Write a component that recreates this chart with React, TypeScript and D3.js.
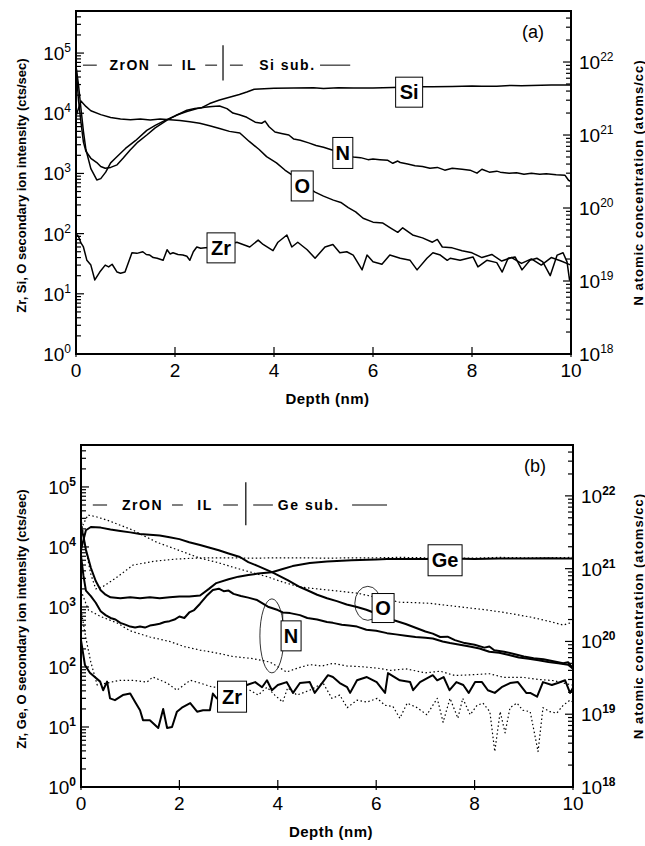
import React from 'react';
import * as d3 from 'd3';

type Pt = [number, number];

// ---------- panel (a): ZrON on Si ----------
const siA: Pt[] = [
  [0, 60000], [0.05, 30000], [0.1, 12000], [0.15, 5000], [0.2, 2500], [0.3, 1200], [0.42, 780], [0.5, 820],
  [0.6, 1050], [0.7, 1500], [0.8, 1800], [1.0, 2600], [1.2, 3500], [1.43, 5200], [1.6, 6300], [1.8, 7600],
  [2.0, 9000], [2.24, 11200], [2.4, 12000], [2.53, 12300], [2.7, 14500], [2.9, 16600], [3.1, 18500],
  [3.3, 20500], [3.45, 22500], [3.6, 25000], [3.8, 25500], [4.0, 26000], [4.4, 26300], [4.8, 26500],
  [5.0, 25800], [5.3, 26500], [5.6, 26300], [6.0, 26300], [6.4, 26800], [6.8, 27500], [7.2, 27500],
  [7.6, 27800], [8.0, 28500], [8.2, 28000], [8.5, 28200], [8.8, 29000], [9.0, 28600], [9.2, 28800],
  [9.6, 29500], [10, 29500],
];
const oA: Pt[] = [
  [0, 9000], [0.1, 16000], [0.2, 13000], [0.3, 11000], [0.5, 9500], [0.7, 8500], [0.9, 8000], [1.1, 7800],
  [1.3, 8000], [1.5, 7700], [1.7, 8000], [1.9, 7800], [2.1, 7600], [2.3, 7200], [2.5, 6800], [2.7, 6200],
  [2.9, 5600], [3.1, 5000], [3.31, 4700], [3.5, 3400], [3.7, 2500], [3.85, 1900], [4.05, 1500],
  [4.22, 1140], [4.4, 900], [4.6, 650], [4.83, 490], [5.0, 420], [5.2, 360], [5.35, 330], [5.5, 270],
  [5.65, 230], [5.8, 180], [6.0, 155], [6.2, 150], [6.35, 125], [6.5, 105], [6.6, 125], [6.8, 95],
  [7.0, 85], [7.2, 72], [7.3, 80], [7.4, 60], [7.6, 58], [7.8, 52], [8.0, 48], [8.2, 40], [8.4, 45],
  [8.6, 35], [8.8, 40], [9.0, 32], [9.2, 38], [9.4, 30], [9.6, 40], [9.8, 35], [10, 30],
];
const zrA: Pt[] = [
  [0, 100], [0.05, 90], [0.1, 70], [0.15, 60], [0.22, 36], [0.3, 30], [0.38, 17], [0.48, 23], [0.59, 30],
  [0.66, 28], [0.73, 31], [0.83, 23], [0.9, 22], [0.99, 23], [1.13, 48], [1.23, 47], [1.35, 50],
  [1.42, 45], [1.49, 44], [1.56, 40], [1.64, 39], [1.76, 36], [1.84, 54], [1.9, 46], [1.96, 48],
  [2.06, 45], [2.16, 44], [2.24, 42], [2.3, 36], [2.37, 50], [2.44, 60], [2.52, 57], [2.61, 58],
  [2.9, 60], [3.25, 72], [3.51, 60], [3.68, 78], [3.78, 66], [3.98, 52], [4.08, 72], [4.26, 95],
  [4.36, 60], [4.48, 72], [4.67, 54], [4.83, 39], [5.03, 60], [5.19, 66], [5.33, 48], [5.47, 50],
  [5.6, 44], [5.78, 25], [5.88, 44], [6.0, 34], [6.18, 31], [6.34, 44], [6.55, 39], [6.75, 36],
  [6.89, 25], [7.09, 39], [7.21, 48], [7.36, 44], [7.5, 36], [7.56, 39], [7.76, 36], [8.02, 41],
  [8.12, 28], [8.3, 36], [8.5, 33], [8.61, 23], [8.73, 39], [8.87, 41], [9.01, 25], [9.17, 36],
  [9.31, 39], [9.43, 34], [9.58, 20], [9.72, 44], [9.84, 48], [9.92, 34], [9.97, 17], [10, 20],
];
// N in atoms/cc (right axis)
const nA: Pt[] = [
  [0, 9e21], [0.05, 3e21], [0.1, 1.5e21], [0.15, 8e20], [0.2, 6e20], [0.3, 4.8e20], [0.42, 4.2e20],
  [0.5, 3.7e20], [0.59, 3.5e20], [0.7, 3.6e20], [0.83, 3.9e20], [0.95, 4.8e20], [1.09, 6.2e20],
  [1.25, 8e20], [1.43, 1.0e21], [1.6, 1.25e21], [1.84, 1.6e21], [2.05, 1.9e21], [2.24, 2.1e21],
  [2.45, 2.3e21], [2.6, 2.4e21], [2.75, 2.45e21], [2.9, 2.5e21], [3.05, 2.3e21], [3.17, 2.0e21],
  [3.3, 1.9e21], [3.45, 1.75e21], [3.62, 1.5e21], [3.75, 1.45e21], [3.82, 1.55e21], [3.9, 1.3e21],
  [4.02, 1.1e21], [4.15, 1.05e21], [4.3, 1.0e21], [4.4, 8.8e20], [4.53, 8.5e20], [4.7, 7.8e20],
  [4.85, 7.2e20], [5.0, 6.8e20], [5.19, 6.2e20], [5.4, 5.6e20], [5.6, 5.0e20], [5.75, 4.9e20],
  [5.9, 4.6e20], [6.0, 4.7e20], [6.14, 4.6e20], [6.3, 4.5e20], [6.4, 4.1e20], [6.5, 4.4e20],
  [6.55, 4.2e20], [6.7, 4.0e20], [6.85, 3.8e20], [7.0, 3.7e20], [7.15, 3.5e20], [7.3, 3.6e20],
  [7.45, 3.3e20], [7.6, 3.5e20], [7.8, 3.4e20], [7.96, 3.3e20], [8.1, 3.0e20], [8.2, 3.4e20],
  [8.35, 3.1e20], [8.5, 3.2e20], [8.57, 3.1e20], [8.75, 3.0e20], [8.9, 3.05e20], [9.05, 2.9e20],
  [9.2, 3.0e20], [9.37, 2.9e20], [9.5, 2.95e20], [9.7, 2.85e20], [9.88, 2.8e20], [9.95, 2.4e20],
  [10, 2.3e20],
];

// ---------- panel (b): ZrON on Ge (solid) and reference (dotted) ----------
const oB: Pt[] = [
  [0, 9000], [0.1, 19000], [0.2, 21500], [0.4, 21000], [0.6, 19500], [0.8, 18500], [1.0, 17500],
  [1.2, 16500], [1.4, 16000], [1.6, 15500], [1.8, 14500], [2.0, 13500], [2.2, 12000], [2.42, 10800],
  [2.6, 9800], [2.8, 8800], [3.0, 7800], [3.23, 6800], [3.4, 5600], [3.6, 4800], [3.88, 3800],
  [4.0, 3400], [4.2, 2800], [4.45, 2150], [4.6, 1900], [4.8, 1600], [5.0, 1400], [5.2, 1250],
  [5.4, 1100], [5.61, 1000], [5.8, 900], [6.0, 780], [6.2, 680], [6.36, 600], [6.6, 520], [6.8, 450],
  [7.0, 390], [7.15, 360], [7.3, 316], [7.45, 320], [7.6, 280], [7.8, 250], [8.0, 235], [8.2, 210],
  [8.3, 220], [8.4, 190], [8.6, 180], [8.8, 165], [9.0, 150], [9.2, 140], [9.4, 135], [9.6, 125],
  [9.8, 115], [9.9, 120], [10, 95],
];
const geB: Pt[] = [
  [0, 22000], [0.05, 15000], [0.1, 9000], [0.2, 4500], [0.3, 2700], [0.4, 1900], [0.5, 1600],
  [0.6, 1450], [0.8, 1400], [1.0, 1450], [1.2, 1400], [1.4, 1450], [1.6, 1400], [1.8, 1450],
  [2.0, 1500], [2.2, 1500], [2.42, 1550], [2.6, 2000], [2.75, 2500], [3.0, 2900], [3.2, 3200],
  [3.4, 3400], [3.6, 3600], [3.88, 3800], [4.1, 4300], [4.3, 4800], [4.65, 5400], [5.0, 5700],
  [5.5, 6000], [6.0, 6200], [6.22, 6300], [6.5, 6300], [7.0, 6300], [7.5, 6400], [8.0, 6300],
  [8.5, 6400], [9.0, 6400], [9.5, 6500], [9.8, 6400], [10, 6400],
];
const nB: Pt[] = [
  [0, 1.5e21], [0.05, 8e20], [0.1, 5e20], [0.2, 4.2e20], [0.3, 3.4e20], [0.4, 2.6e20], [0.5, 2.3e20],
  [0.6, 2.1e20], [0.7, 2.0e20], [0.8, 1.8e20], [0.9, 1.7e20], [1.0, 1.6e20], [1.1, 1.55e20],
  [1.2, 1.6e20], [1.3, 1.55e20], [1.4, 1.65e20], [1.5, 1.7e20], [1.6, 1.75e20], [1.7, 1.85e20],
  [1.8, 1.9e20], [1.9, 2.0e20], [2.0, 2.2e20], [2.1, 2.1e20], [2.2, 2.5e20], [2.3, 2.7e20],
  [2.42, 3.3e20], [2.55, 4.2e20], [2.68, 5.1e20], [2.8, 5.3e20], [2.9, 4.9e20], [3.0, 5.0e20],
  [3.1, 4.5e20], [3.25, 4.2e20], [3.4, 4.0e20], [3.58, 3.7e20], [3.8, 3.0e20], [4.0, 2.7e20],
  [4.1, 2.5e20], [4.25, 2.45e20], [4.45, 2.3e20], [4.6, 2.1e20], [4.8, 2.0e20], [5.0, 1.85e20],
  [5.12, 1.8e20], [5.3, 1.7e20], [5.45, 1.65e20], [5.61, 1.6e20], [5.8, 1.45e20], [6.0, 1.4e20],
  [6.22, 1.3e20], [6.4, 1.25e20], [6.6, 1.2e20], [6.8, 1.15e20], [7.0, 1.12e20], [7.15, 1.1e20],
  [7.35, 1.0e20], [7.5, 9.5e19], [7.7, 9e19], [7.9, 8.5e19], [8.1, 8e19], [8.3, 7.2e19],
  [8.5, 7e19], [8.7, 6.5e19], [8.9, 6e19], [9.1, 5.8e19], [9.3, 5.5e19], [9.5, 5.2e19],
  [9.7, 5.0e19], [9.9, 4.8e19], [10, 4.2e19],
];
const zrB: Pt[] = [
  [0, 280], [0.08, 108], [0.18, 80], [0.39, 57], [0.45, 41], [0.53, 57], [0.59, 30], [0.69, 28],
  [0.85, 34], [1.0, 36], [1.1, 26], [1.2, 19], [1.26, 13], [1.4, 13], [1.57, 9.6], [1.67, 20],
  [1.75, 9.6], [1.85, 10], [1.95, 18], [2.05, 21], [2.22, 25], [2.36, 18], [2.48, 19], [2.62, 19],
  [2.68, 36], [2.76, 30], [3.0, 40], [3.37, 50], [3.54, 56], [3.68, 46], [3.78, 60], [3.88, 41],
  [4.0, 50], [4.18, 56], [4.31, 37], [4.45, 54], [4.65, 56], [4.75, 37], [4.9, 54], [5.02, 73],
  [5.12, 68], [5.26, 54], [5.41, 46], [5.47, 37], [5.61, 60], [5.81, 68], [6.01, 56], [6.18, 37],
  [6.24, 79], [6.48, 60], [6.69, 56], [6.75, 41], [6.89, 56], [7.15, 73], [7.24, 60], [7.37, 68],
  [7.49, 41], [7.63, 56], [7.77, 50], [7.88, 37], [8.01, 56], [8.15, 56], [8.27, 41], [8.41, 37],
  [8.55, 46], [8.72, 54], [8.88, 56], [9.05, 37], [9.13, 37], [9.27, 32], [9.39, 56], [9.57, 50],
  [9.69, 54], [9.84, 60], [9.94, 37], [10, 45],
];
const oRefB: Pt[] = [
  [0, 20000], [0.14, 34000], [0.3, 32000], [0.53, 28000], [0.8, 23000], [1.06, 19000], [1.3, 15000],
  [1.54, 12000], [1.8, 10000], [2.07, 8300], [2.42, 6500], [2.78, 5500], [3.09, 4600], [3.4, 3900],
  [3.78, 3200], [4.1, 2600], [4.45, 2150], [4.8, 2000], [5.2, 1850], [5.61, 1700], [6.0, 1450],
  [6.48, 1200], [6.8, 1180], [7.09, 1150], [7.5, 1050], [7.91, 960], [8.2, 900], [8.52, 830],
  [8.8, 760], [9.13, 680], [9.5, 580], [9.8, 500], [10, 560],
];
const geRefB: Pt[] = [
  [0, 30000], [0.08, 10700], [0.2, 3500], [0.3, 2000], [0.45, 2200], [0.7, 3000], [1.06, 5000],
  [1.5, 5800], [1.95, 6300], [2.5, 6600], [3.0, 6600], [3.5, 6500], [4.0, 6600], [4.5, 6600],
  [5.0, 6500], [5.5, 6600], [6.0, 6600], [6.5, 6700], [7.0, 6600], [7.5, 6600], [8.0, 6500],
  [8.5, 6700], [9.0, 6600], [9.5, 6600], [10, 6700],
];
const nRefB: Pt[] = [
  [0, 5e20], [0.15, 2.7e20], [0.4, 2.2e20], [0.73, 1.8e20], [1.0, 1.4e20], [1.4, 1.15e20],
  [1.8, 1.0e20], [2.1, 8.5e19], [2.42, 7.6e19], [2.78, 6.9e19], [3.09, 6.2e19], [3.5, 5.8e19],
  [3.84, 5.2e19], [4.0, 4.5e19], [4.18, 3.8e19], [4.4, 4.3e19], [4.65, 4.8e19], [4.9, 4.6e19],
  [5.12, 5.0e19], [5.4, 4.6e19], [5.7, 4.5e19], [6.02, 4.3e19], [6.3, 4.0e19], [6.6, 4.2e19],
  [7.0, 3.7e19], [7.3, 3.9e19], [7.6, 3.4e19], [8.0, 3.5e19], [8.3, 3.6e19], [8.6, 3.2e19],
  [9.0, 3.2e19], [9.3, 3.0e19], [9.6, 2.9e19], [10, 2.5e19],
];
const zrRefB: Pt[] = [
  [0, 900], [0.1, 300], [0.2, 120], [0.33, 50], [0.53, 54], [0.79, 60], [1.06, 60], [1.34, 56],
  [1.46, 68], [1.75, 54], [1.95, 41], [2.22, 60], [2.42, 54], [2.68, 46], [3.1, 46], [3.43, 41],
  [3.6, 34], [3.78, 46], [3.94, 34], [4.1, 26], [4.2, 45], [4.39, 34], [4.65, 41], [4.92, 54],
  [5.1, 30], [5.26, 34], [5.41, 21], [5.61, 28], [5.81, 26], [6.02, 30], [6.18, 23], [6.34, 22],
  [6.48, 14], [6.63, 25], [6.83, 21], [7.03, 16], [7.24, 30], [7.36, 12], [7.5, 30], [7.66, 14],
  [7.76, 30], [7.91, 16], [8.05, 23], [8.17, 25], [8.31, 18], [8.41, 3.9], [8.52, 18], [8.62, 8],
  [8.72, 21], [8.86, 25], [8.98, 19], [9.13, 18], [9.29, 3.9], [9.39, 21], [9.53, 18], [9.67, 17],
  [9.8, 23], [9.94, 28], [10, 26],
];

// ---------- axes ----------
const depthDomain: Pt = [0, 10];
const depthTicks = [0, 2, 4, 6, 8, 10];
const countsDomain: Pt = [1, 5e5];
const nDomain: Pt = [1e18, 5e22];

const FONT = "'Liberation Sans', Arial, sans-serif";
const NARROW = "'Liberation Sans Narrow', 'Liberation Sans', Arial, sans-serif";

type Series = { data: Pt[]; axis: 'L' | 'R'; dotted?: boolean };
type Box = { text: string; d: number; v: number; w: number; h: number };
type Mark = { kind: 'line'; d0: number; d1: number } | { kind: 'text'; d: number; text: string } | { kind: 'bar'; d: number; v0: number; v1: number };

type PanelCfg = {
  left: number; right: number; top: number; bottom: number;
  tag: string; leftTitle: string;
  series: Series[]; boxes: Box[];
  layerV: number; layer: Mark[];
  ellipses: { d: number; v: number; rx: number; ry: number }[];
  connectors: { d0: number; v0: number; d1: number; v1: number }[];
  lineWidth: number; boldSup: boolean;
};

const panelA: PanelCfg = {
  left: 76, right: 571, top: 11, bottom: 354,
  tag: '(a)', leftTitle: 'Zr, Si, O secondary ion intensity (cts/sec)',
  series: [
    { data: siA, axis: 'L' }, { data: oA, axis: 'L' }, { data: zrA, axis: 'L' }, { data: nA, axis: 'R' },
  ],
  boxes: [
    { text: 'Si', d: 6.73, v: 22400, w: 27, h: 30 },
    { text: 'N', d: 5.39, v: 2190, w: 20, h: 31 },
    { text: 'O', d: 4.57, v: 620, w: 22, h: 30 },
    { text: 'Zr', d: 2.93, v: 58, w: 28, h: 30 },
  ],
  layerV: 63000,
  layer: [
    { kind: 'line', d0: 0.14, d1: 0.42 }, { kind: 'text', d: 1.09, text: 'ZrON' },
    { kind: 'line', d0: 1.66, d1: 1.94 }, { kind: 'text', d: 2.29, text: 'IL' },
    { kind: 'line', d0: 2.61, d1: 2.85 }, { kind: 'bar', d: 2.97, v0: 135000, v1: 35000 },
    { kind: 'line', d0: 3.11, d1: 3.37 }, { kind: 'text', d: 4.27, text: 'Si sub.' },
    { kind: 'line', d0: 4.93, d1: 5.54 },
  ],
  ellipses: [], connectors: [], lineWidth: 1.5, boldSup: false,
};

const panelB: PanelCfg = {
  left: 81, right: 573, top: 445, bottom: 787,
  tag: '(b)', leftTitle: 'Zr, Ge, O secondary ion intensity (cts/sec)',
  series: [
    { data: oRefB, axis: 'L', dotted: true }, { data: geRefB, axis: 'L', dotted: true },
    { data: nRefB, axis: 'R', dotted: true }, { data: zrRefB, axis: 'L', dotted: true },
    { data: oB, axis: 'L' }, { data: geB, axis: 'L' }, { data: nB, axis: 'R' }, { data: zrB, axis: 'L' },
  ],
  boxes: [
    { text: 'Ge', d: 7.4, v: 6000, w: 34, h: 31 },
    { text: 'O', d: 6.14, v: 960, w: 22, h: 29 },
    { text: 'N', d: 4.27, v: 330, w: 20, h: 30 },
    { text: 'Zr', d: 3.07, v: 32, w: 29, h: 31 },
  ],
  layerV: 50000,
  layer: [
    { kind: 'line', d0: 0.24, d1: 0.53 }, { kind: 'text', d: 1.25, text: 'ZrON' },
    { kind: 'line', d0: 1.85, d1: 2.07 }, { kind: 'text', d: 2.52, text: 'IL' },
    { kind: 'line', d0: 2.89, d1: 3.19 }, { kind: 'bar', d: 3.35, v0: 120000, v1: 23000 },
    { kind: 'line', d0: 3.5, d1: 3.9 }, { kind: 'text', d: 4.63, text: 'Ge sub.' },
    { kind: 'line', d0: 5.51, d1: 6.22 },
  ],
  ellipses: [
    { d: 5.83, v: 1150, rx: 13, ry: 17 },
    { d: 3.88, v: 330, rx: 12, ry: 37 },
  ],
  connectors: [{ d0: 4.1, v0: 826, d1: 4.1, v1: 585 }],
  lineWidth: 2, boldSup: true,
};

function Panel({ cfg }: { cfg: PanelCfg }) {
  const { left, right, top, bottom } = cfg;
  const x = d3.scaleLinear().domain(depthDomain).range([left, right]);
  const yL = d3.scaleLog().domain(countsDomain).range([bottom, top]);
  const yR = d3.scaleLog().domain(nDomain).range([bottom, top]);
  const lineL = d3.line<Pt>().x(d => x(d[0])).y(d => yL(d[1]));
  const lineR = d3.line<Pt>().x(d => x(d[0])).y(d => yR(d[1]));
  const isMajor = (v: number) => Math.abs(Math.log10(v) - Math.round(Math.log10(v))) < 1e-6;
  const supW = cfg.boldSup ? 'bold' : 'normal';
  const cx = (left + right) / 2;

  return (
    <g>
      {/* data */}
      {cfg.series.map((s, i) => (
        <path key={i} d={(s.axis === 'L' ? lineL : lineR)(s.data) || ''} fill="none" stroke="#000"
          strokeWidth={s.dotted ? 1.2 : cfg.lineWidth} strokeDasharray={s.dotted ? '1.5,2.5' : undefined}
          strokeLinejoin="round" />
      ))}

      {/* layer annotations */}
      {cfg.layer.map((m, i) => {
        const yy = yL(cfg.layerV);
        if (m.kind === 'line') return <line key={i} x1={x(m.d0)} x2={x(m.d1)} y1={yy} y2={yy} stroke="#000" strokeWidth={1} />;
        if (m.kind === 'bar') return <line key={i} x1={x(m.d)} x2={x(m.d)} y1={yL(m.v0)} y2={yL(m.v1)} stroke="#000" strokeWidth={1.2} />;
        return <text key={i} x={x(m.d)} y={yy + 5} textAnchor="middle" fontFamily={FONT} fontWeight="bold"
          fontSize={14} letterSpacing={1.5}>{m.text}</text>;
      })}

      {cfg.ellipses.map((e, i) => (
        <ellipse key={i} cx={x(e.d)} cy={yL(e.v)} rx={e.rx} ry={e.ry} fill="none" stroke="#000" strokeWidth={0.8} />
      ))}
      {cfg.connectors.map((c, i) => (
        <line key={i} x1={x(c.d0)} x2={x(c.d1)} y1={yL(c.v0)} y2={yL(c.v1)} stroke="#000" strokeWidth={0.8} />
      ))}

      {/* labelled boxes */}
      {cfg.boxes.map((b, i) => (
        <g key={i}>
          <rect x={x(b.d) - b.w / 2} y={yL(b.v) - b.h / 2} width={b.w} height={b.h} fill="#fff" stroke="#000" strokeWidth={1} />
          <text x={x(b.d)} y={yL(b.v) + 7} textAnchor="middle" fontFamily={FONT} fontWeight="bold" fontSize={20}>{b.text}</text>
        </g>
      ))}

      {/* frame */}
      <rect x={left} y={top} width={right - left} height={bottom - top} fill="none" stroke="#000" strokeWidth={2} />

      {/* left log axis */}
      {yL.ticks().map((v, i) => (
        <line key={'l' + i} x1={left} x2={left + (isMajor(v) ? 8 : 5)} y1={yL(v)} y2={yL(v)} stroke="#000" strokeWidth={1.2} />
      ))}
      {yL.ticks().filter(isMajor).map((v, i) => (
        <text key={'lt' + i} x={left - 5} y={yL(v) + 7} textAnchor="end" fontFamily={NARROW} fontSize={19}>
          10<tspan dy={-8} fontSize={12} fontWeight={supW} fontFamily={FONT}>{Math.round(Math.log10(v))}</tspan>
        </text>
      ))}

      {/* right log axis */}
      {yR.ticks().map((v, i) => (
        <line key={'r' + i} x1={right - (isMajor(v) ? 8 : 5)} x2={right} y1={yR(v)} y2={yR(v)} stroke="#000" strokeWidth={1.2} />
      ))}
      {yR.ticks().filter(isMajor).map((v, i) => (
        <text key={'rt' + i} x={right + 8} y={yR(v) + 7} textAnchor="start" fontFamily={NARROW} fontSize={19}>
          10<tspan dy={-8} fontSize={12} fontWeight={supW} fontFamily={FONT}>{Math.round(Math.log10(v))}</tspan>
        </text>
      ))}

      {/* depth axis */}
      {depthTicks.map((t, i) => (
        <g key={'x' + i}>
          <line x1={x(t)} x2={x(t)} y1={bottom - 7} y2={bottom + 3} stroke="#000" strokeWidth={1.2} />
          <text x={x(t)} y={bottom + 23} textAnchor="middle" fontFamily={NARROW} fontSize={19}>{t}</text>
        </g>
      ))}

      <text x={cx + 4} y={bottom + 50} textAnchor="middle" fontFamily={FONT} fontWeight="bold" fontSize={15}
        letterSpacing={0.5}>Depth (nm)</text>
      <text transform={`translate(26,${(top + bottom) / 2 + 3}) rotate(-90)`} textAnchor="middle" fontFamily={FONT}
        fontWeight="bold" fontSize={13}>{cfg.leftTitle}</text>
      <text transform={`translate(643,${(top + bottom) / 2}) rotate(-90)`} textAnchor="middle" fontFamily={FONT}
        fontWeight="bold" fontSize={13} letterSpacing={1}>N atomic concentration (atoms/cc)</text>
      <text x={right - 38} y={top + 27} textAnchor="middle" fontFamily={FONT} fontSize={18}>{cfg.tag}</text>
    </g>
  );
}

export default function App() {
  return (
    <svg width={645} height={846} viewBox="0 0 645 846"
      style={{ position: 'absolute', left: 0, top: 0, background: '#fff' }}>
      <rect x={0} y={0} width={645} height={846} fill="#fff" />
      <Panel cfg={panelA} />
      <Panel cfg={panelB} />
    </svg>
  );
}
